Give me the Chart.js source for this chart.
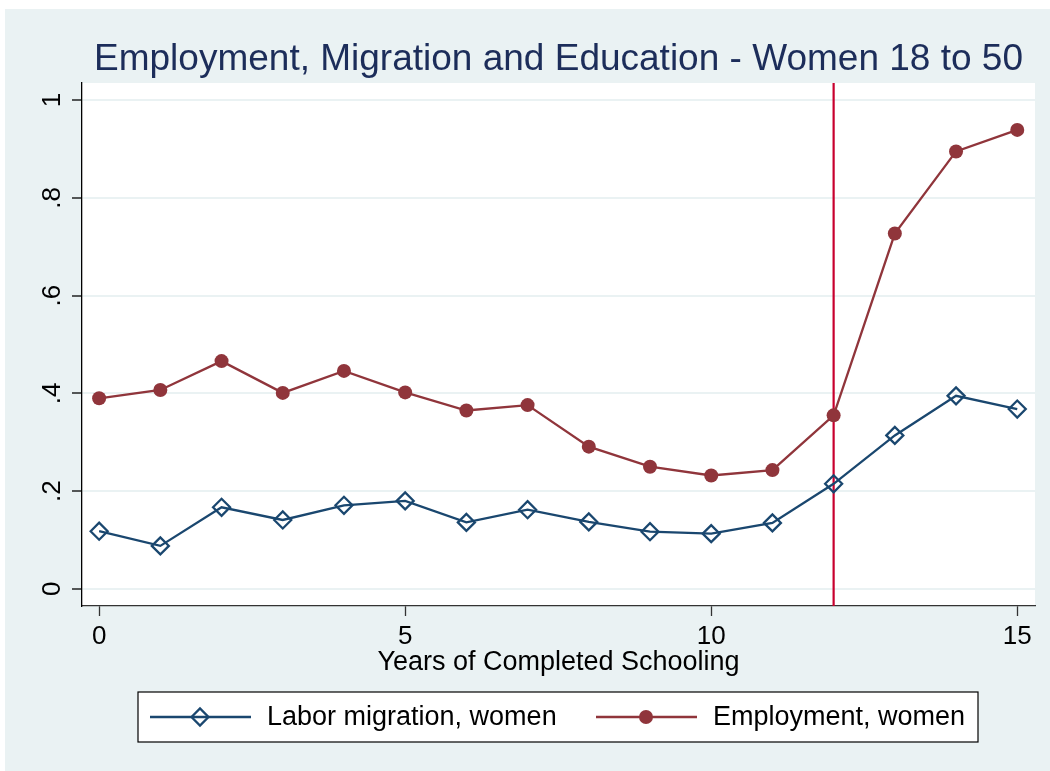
<!DOCTYPE html>
<html>
<head>
<meta charset="utf-8">
<script src="https://cdn.jsdelivr.net/npm/chart.js@4.4.1/dist/chart.umd.min.js"></script>
<style>
  html, body { margin: 0; padding: 0; background: #fff; }
  canvas { display: block; }
</style>
</head>
<body>
<canvas id="chart" width="1050" height="771"></canvas>
<script>
// years of schooling and the two series
const years = [0, 1, 2, 3, 4, 5, 6, 7, 8, 9, 10, 11, 12, 13, 14, 15];
const migration = [0.118, 0.088, 0.167, 0.141, 0.171, 0.180, 0.136, 0.162, 0.137, 0.117, 0.113, 0.135, 0.215, 0.314, 0.395, 0.368];
const employment = [0.390, 0.407, 0.466, 0.401, 0.446, 0.402, 0.365, 0.376, 0.291, 0.250, 0.232, 0.243, 0.355, 0.727, 0.895, 0.939];
const cutoff = 12;

const xTicks = [0, 5, 10, 15];
const yTicks = [0, 0.2, 0.4, 0.6, 0.8, 1];
const yTickLabels = ["0", ".2", ".4", ".6", ".8", "1"];

const seriesNames = ["Labor migration, women", "Employment, women"];
const titleText = "Employment, Migration and Education - Women 18 to 50";
const xTitle = "Years of Completed Schooling";

const FONT = '"Liberation Sans", Arial, sans-serif';
const BG = "#eaf2f3";
const NAVY = "#1a476f";
const MAROON = "#90353b";

const toPoints = (vals) => years.map((x, i) => ({ x, y: vals[i] }));

const backdrop = {
  id: "backdrop",
  beforeDraw(chart) {
    const { ctx, chartArea: a } = chart;
    ctx.save();
    ctx.fillStyle = "#fff";
    ctx.fillRect(0, 0, chart.width, chart.height);
    ctx.fillStyle = BG;
    ctx.fillRect(5, 9, chart.width - 5, chart.height - 9);
    ctx.fillStyle = "#fff";
    ctx.fillRect(a.left, a.top, a.right - a.left, a.bottom - a.top);
    ctx.restore();
  }
};

// vertical reference line at 12 years
const cutLine = {
  id: "cutLine",
  beforeDatasetsDraw(chart) {
    const { ctx, chartArea: a, scales } = chart;
    const px = scales.x.getPixelForValue(cutoff);
    ctx.save();
    ctx.strokeStyle = "#c8002e";
    ctx.lineWidth = 2.2;
    ctx.beginPath();
    ctx.moveTo(px, a.top);
    ctx.lineTo(px, a.bottom);
    ctx.stroke();
    ctx.restore();
  }
};

// Stata style legend: boxed, line with marker in the middle
const boxLegend = {
  id: "boxLegend",
  afterDraw(chart) {
    const { ctx } = chart;
    const box = { x: 138, y: 692, w: 840, h: 50 };
    const cy = box.y + box.h / 2;
    ctx.save();
    ctx.fillStyle = "#fff";
    ctx.fillRect(box.x, box.y, box.w, box.h);
    ctx.strokeStyle = "#000";
    ctx.lineWidth = 1.2;
    ctx.strokeRect(box.x, box.y, box.w, box.h);
    const items = [
      { x0: 150, tx: 267, ds: chart.data.datasets[0] },
      { x0: 596, tx: 713, ds: chart.data.datasets[1] }
    ];
    items.forEach((it, i) => {
      const ds = it.ds;
      ctx.strokeStyle = ds.borderColor;
      ctx.lineWidth = ds.borderWidth;
      ctx.beginPath();
      ctx.moveTo(it.x0, cy);
      ctx.lineTo(it.x0 + 101, cy);
      ctx.stroke();
      ctx.fillStyle = ds.pointBackgroundColor;
      ctx.strokeStyle = ds.pointBorderColor;
      ctx.lineWidth = ds.pointBorderWidth;
      Chart.helpers.drawPoint(ctx, {
        pointStyle: ds.pointStyle,
        radius: ds.pointRadius,
        borderWidth: ds.pointBorderWidth,
        rotation: 0
      }, it.x0 + 50, cy);
      ctx.fillStyle = "#000";
      ctx.font = "27px " + FONT;
      ctx.textBaseline = "middle";
      ctx.textAlign = "left";
      ctx.fillText(seriesNames[i], it.tx, cy + 1);
    });
    ctx.restore();
  }
};

new Chart(document.getElementById("chart"), {
  type: "line",
  data: {
    datasets: [
      {
        label: seriesNames[0],
        data: toPoints(migration),
        borderColor: NAVY,
        borderWidth: 2.3,
        pointStyle: "rectRot",
        pointRadius: 8.5,
        pointBorderWidth: 2.3,
        pointBorderColor: NAVY,
        pointBackgroundColor: "rgba(0,0,0,0)",
        tension: 0
      },
      {
        label: seriesNames[1],
        data: toPoints(employment),
        borderColor: MAROON,
        borderWidth: 2.3,
        pointStyle: "circle",
        pointRadius: 7,
        pointBorderWidth: 0,
        pointBorderColor: MAROON,
        pointBackgroundColor: MAROON,
        tension: 0
      }
    ]
  },
  options: {
    responsive: false,
    animation: false,
    devicePixelRatio: 1,
    layout: { padding: { left: 0, right: 15, top: 0, bottom: 85 } },
    plugins: {
      legend: { display: false },
      tooltip: { enabled: false },
      title: {
        display: true,
        text: titleText,
        fullSize: false,
        color: "#1c2d5a",
        font: { family: FONT, size: 37, weight: "normal", lineHeight: 1.2 },
        padding: { top: 37.5, bottom: 1.1 }
      }
    },
    scales: {
      x: {
        type: "linear",
        min: -0.28,
        max: 15.29,
        afterFit: (s) => { s.height = 80; },
        afterBuildTicks: (s) => { s.ticks = xTicks.map(v => ({ value: v })); },
        grid: { drawOnChartArea: false, color: "#333", tickLength: 10, tickWidth: 1.3 },
        border: { color: "#333", width: 1.3 },
        ticks: {
          color: "#000",
          padding: 5,
          maxRotation: 0,
          font: { family: FONT, size: 26 },
          callback: (v) => String(v)
        },
        title: {
          display: true,
          text: xTitle,
          color: "#000",
          padding: { top: 0, bottom: 7 },
          font: { family: FONT, size: 27, lineHeight: 1.2 }
        }
      },
      y: {
        min: -0.035,
        max: 1.035,
        afterFit: (s) => { s.width = 82; },
        afterBuildTicks: (s) => { s.ticks = yTicks.map(v => ({ value: v })); },
        grid: { color: BG, lineWidth: 2, tickLength: 10, tickColor: "#000", tickWidth: 1.3 },
        border: { color: "#000", width: 1.3 },
        ticks: {
          color: "#000",
          padding: 8,
          minRotation: 90,
          maxRotation: 90,
          crossAlign: "center",
          font: { family: FONT, size: 26 },
          callback: (v) => yTickLabels[yTicks.findIndex(t => Math.abs(t - v) < 1e-9)]
        }
      }
    }
  },
  plugins: [backdrop, cutLine, boxLegend]
});
</script>
</body>
</html>
